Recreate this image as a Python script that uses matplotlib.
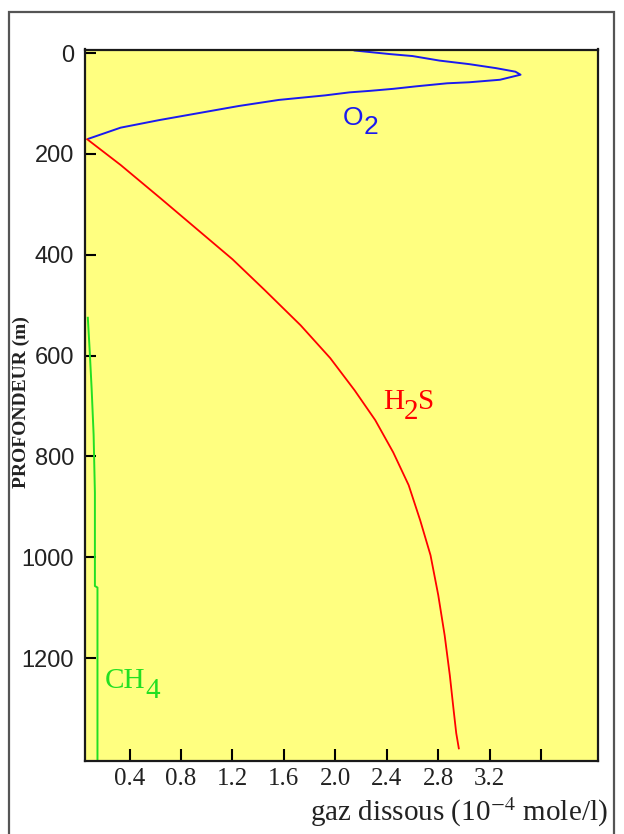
#%% Libraries
import numpy as np
import matplotlib
matplotlib.use('Agg')
import matplotlib.pyplot as plt
from matplotlib.patches import Rectangle

#%% Data (depth in m, concentration in 1e-4 mole/l)
o2_conc = [2.15, 2.42, 2.60, 2.81, 3.04, 3.25, 3.40, 3.44, 3.28, 3.04, 2.87,
           2.63, 2.45, 2.27, 2.11, 1.92, 1.56, 1.25, 0.94, 0.63, 0.33, 0.08]
o2_depth = [-5, 2, 6, 15, 22, 30, 37, 43, 53, 58, 60,
            66, 71, 75, 78, 84, 93, 105, 119, 133, 148, 170]

h2s_conc = [0.07, 0.33, 0.64, 0.95, 1.20, 1.45, 1.73, 1.96, 2.15, 2.31,
            2.45, 2.57, 2.66, 2.74, 2.80, 2.85, 2.89, 2.92, 2.94, 2.96]
h2s_depth = [171, 222, 288, 355, 409, 470, 540, 605, 669, 728,
             792, 857, 927, 996, 1075, 1155, 1234, 1304, 1349, 1379]

ch4_conc = [0.075, 0.09, 0.105, 0.12, 0.13, 0.13, 0.15, 0.15]
ch4_depth = [525, 593, 668, 757, 872, 1057, 1060, 1410]

y_ticks = [0, 200, 400, 600, 800, 1000, 1200]
x_ticks = [0.4, 0.8, 1.2, 1.6, 2.0, 2.4, 2.8, 3.2, 3.6]
x_ticklabels = ['0.4', '0.8', '1.2', '1.6', '2.0', '2.4', '2.8', '3.2', '']

#%% Figure
W, H = 624, 834
fig = plt.figure(figsize=(W / 100, H / 100), dpi=100)
fig.patch.set_facecolor('white')

# outer frame
fig.patches.append(Rectangle((9 / W, -0.05), 605 / W, 1.05 - 12 / H,
                             transform=fig.transFigure, fill=False,
                             edgecolor='#555555', linewidth=1.6))

ax = fig.add_axes([85 / W, 1 - 761 / H, 512.7 / W, 711.5 / H])
ax.set_facecolor('#ffff80')

ax.plot(o2_conc, o2_depth, color='#1a1af0', lw=1.4)
ax.plot(h2s_conc, h2s_depth, color='#ff0000', lw=1.3)
ax.plot(ch4_conc, ch4_depth, color='#22e022', lw=1.4)

ax.set_xlim(0.053, 4.04)
ax.set_ylim(1404, -7)

for s in ax.spines.values():
    s.set_linewidth(1.6)
    s.set_color('#1a1a1a')

ax.set_yticks(y_ticks)
ax.set_xticks(x_ticks)
ax.set_xticklabels(x_ticklabels)
ax.tick_params(axis='y', direction='in', length=8, width=1.5, pad=8,
               labelsize=17, labelcolor='#222222',
               labelfontfamily='Liberation Sans')
ax.tick_params(axis='x', direction='in', length=8.5, width=1.5, pad=5,
               labelsize=18, labelcolor='#222222',
               labelfontfamily='Liberation Serif')

ax.set_ylabel('PROFONDEUR (m)', fontsize=14, fontweight='bold',
              family='Liberation Serif', color='#222222')
ax.yaxis.set_label_coords(-0.108, 0.505)

fig.text(608 / W, 1 - 821 / H, r'gaz dissous (10$^{\mathrm{-4}}$ mole/l)',
         fontsize=21, family='Liberation Serif', math_fontfamily='stix',
         ha='right', va='baseline', color='#222222')


#%% Curve labels with full size subscripts
def label(x, y, main, sub, tail, color, family, size):
    t1 = ax.text(x, y, main, color=color, family=family, fontsize=size,
                 ha='left', va='center')
    t2 = ax.annotate(sub, xy=(1, 0.12), xycoords=t1, color=color,
                     family=family, fontsize=size, ha='left', va='center')
    if tail:
        ax.annotate(tail, xy=(1, 0), xycoords=(t2, t1), color=color,
                    family=family, fontsize=size, ha='left', va='bottom')


label(2.06, 128, 'O', '2', '', '#1a1af0', 'Liberation Sans', 19)
label(2.37, 692, 'H', '2', 'S', '#ff0000', 'Liberation Serif', 21)
label(0.21, 1245, 'CH', '4', '', '#22e022', 'Liberation Serif', 21)

fig.savefig('out.png', dpi=100)
